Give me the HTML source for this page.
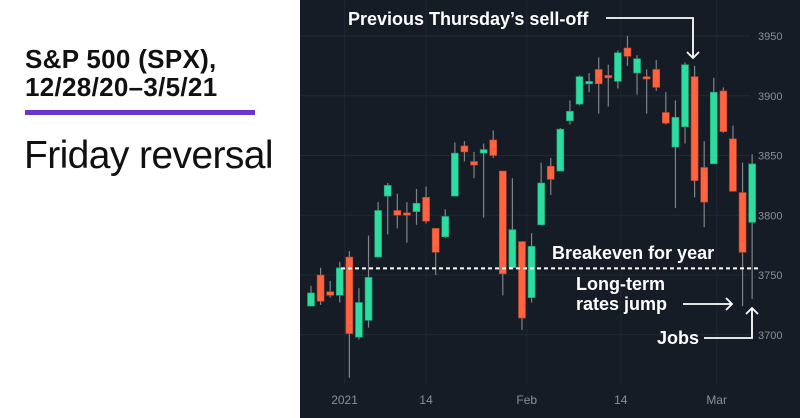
<!DOCTYPE html>
<html><head><meta charset="utf-8"><style>
body{margin:0;width:800px;height:418px;overflow:hidden;background:#fff;font-family:"Liberation Sans",sans-serif}
#left{position:absolute;left:0;top:0;width:300px;height:418px;background:#fff}
#title{position:absolute;left:25px;top:45px;font-size:26px;font-weight:bold;line-height:28px;color:#111;letter-spacing:0.3px}
#bar{position:absolute;left:25px;top:110px;width:230px;height:5px;background:#6a35cc}
#sub{position:absolute;left:24px;top:134px;font-size:39px;color:#111;letter-spacing:-0.6px}
svg{position:absolute;left:300px;top:0}
</style></head><body>
<div id="left">
<div id="title">S&amp;P 500 (SPX),<br>12/28/20–3/5/21</div>
<div id="bar"></div>
<div id="sub">Friday reversal</div>
</div>
<svg id="chart" width="500" height="418"></svg>
<script>
const opens =[3724,3750,3736,3733,3765,3698,3712,3765,3816,3804,3802,3803,3815,3789,3782,3816,3858,3845,3852,3863,3837,3756,3778,3731,3792,3841,3837,3879,3893,3910,3922,3917,3912,3940,3919,3916,3922,3886,3857,3874,3916,3840,3843,3904,3864,3819,3794];
const closes=[3735,3728,3733,3756,3701,3727,3748,3804,3825,3800,3800,3810,3795,3769,3799,3852,3853,3842,3855,3850,3751,3788,3714,3774,3827,3830,3872,3887,3916,3912,3910,3915,3936,3933,3931,3914,3907,3877,3882,3926,3829,3811,3903,3870,3820,3769,3843];
const highs =[3741,3756,3745,3761,3770,3739,3783,3811,3827,3818,3811,3822,3824,3789,3805,3861,3862,3853,3860,3871,3837,3831,3778,3785,3844,3848,3873,3896,3917,3919,3932,3926,3938,3950,3934,3922,3930,3903,3896,3928,3925,3862,3915,3907,3875,3844,3851];
const lows  =[3724,3725,3731,3727,3664,3696,3706,3765,3784,3789,3777,3792,3793,3750,3781,3816,3845,3831,3798,3848,3733,3756,3704,3727,3792,3817,3837,3876,3892,3903,3885,3891,3906,3925,3901,3885,3904,3876,3806,3860,3815,3790,3843,3869,3820,3724,3730];
const yTicks=[3700,3750,3800,3850,3900,3950];
const xLabels=["2021","14","Feb","14","Mar"];
const xLabelIdx=[3.5,12,22.5,32.3,42.3];
const breakeven=3756;
const NS="http://www.w3.org/2000/svg";
const svg=document.getElementById('chart');
const y=v=>275-(v-3750)*1.195;
const x=i=>11+i*9.59;
function mk(t,a,p){const e=document.createElementNS(NS,t);for(const k in a)e.setAttribute(k,a[k]);(p||svg).appendChild(e);return e;}
const bg=mk('rect',{x:0,y:0,width:500,height:418,fill:'#161c26'});


yTicks.forEach(v=>{
 const g=mk('line',{x1:0,x2:450,y1:y(v),y2:y(v),stroke:'#222935','stroke-width':1});
 
 
 const t=mk('text',{x:458,y:y(v)+4,fill:'#8a8f98','font-size':11});
 t.textContent=v;
 
 
});
xLabels.forEach((l,k)=>{
 const xx=x(xLabelIdx[k]);
 const g=mk('line',{x1:xx,x2:xx,y1:0,y2:385,stroke:'#1f2631','stroke-width':1});
 
 
 const t=mk('text',{x:xx,y:404,fill:'#8a8f98','font-size':12,'text-anchor':'middle'});
 t.textContent=l;
 
 
});
opens.forEach((o,i)=>{
 const c=closes[i],up=c>=o,col=up?'#2ddc9f':'#ff6340';
 const w=mk('line',{x1:x(i),x2:x(i),y1:y(highs[i]),y2:y(lows[i]),stroke:'#808489','stroke-width':1.2});
 
 
 const top=y(Math.max(o,c)),h=Math.max(2,Math.abs(y(o)-y(c)));
 const b=mk('rect',{x:x(i)-3.5,y:top,width:7,height:h,fill:col,stroke:up?'#1c9a70':'#b8452e','stroke-width':0.6});
 
 
});
const be=mk('line',{x1:41,x2:458,y1:y(breakeven)+0.5,y2:y(breakeven)+0.5,stroke:'#fff','stroke-width':2,'stroke-dasharray':'4 3'});


function txt(s,xx,yy,name,anchor){const t=mk('text',{x:xx,y:yy,fill:'#fff','font-size':18,'font-weight':'bold','text-anchor':anchor||'start'});t.textContent=s;
 
 return t;}
txt('Previous Thursday’s sell-off',48,25,'selloff-annotation');
txt('Breakeven for year',252,259,'breakeven-annotation');
txt('Long-term',276,290,'rates-annotation');
txt('rates jump',276,310,'rates-annotation-line2');
txt('Jobs',357,344,'jobs-annotation');
const arrows=mk('g',{stroke:'#fff','stroke-width':1.8,fill:'none'});


mk('polyline',{points:'306,18 393,18 393,58'},arrows);
mk('polyline',{points:'387,52 393,58 399,52'},arrows);
mk('line',{x1:383,x2:432,y1:304,y2:304},arrows);
mk('polyline',{points:'426,298 432,304 426,310'},arrows);
mk('polyline',{points:'404,338 452,338 452,308'},arrows);
mk('polyline',{points:'446,314 452,308 458,314'},arrows);
</script>
</body></html>
